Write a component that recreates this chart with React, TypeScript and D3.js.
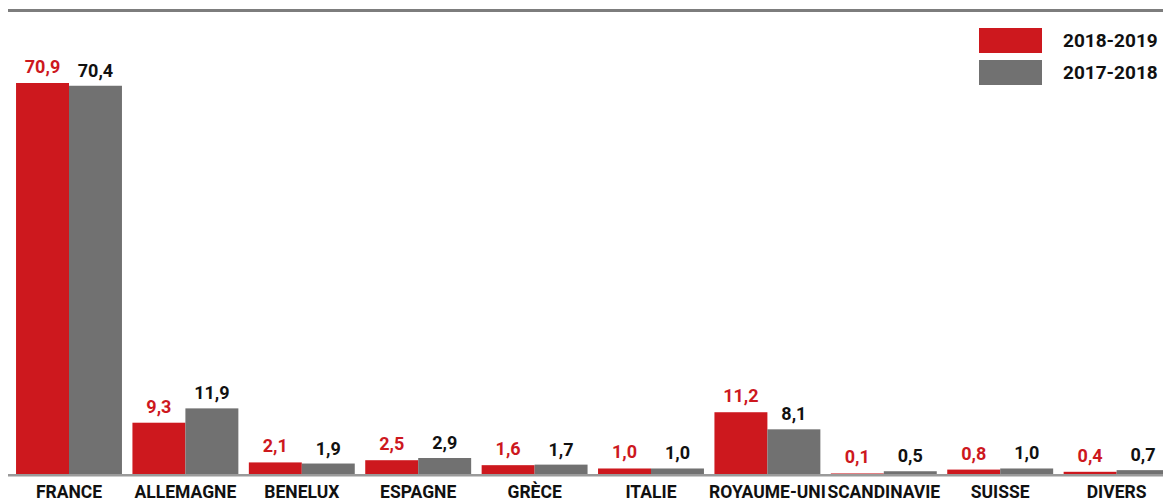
import { useEffect, useRef } from "react";
import * as d3 from "d3";

// categories and values (labels as printed, french decimal comma)
const categories = [
  "FRANCE",
  "ALLEMAGNE",
  "BENELUX",
  "ESPAGNE",
  "GRÈCE",
  "ITALIE",
  "ROYAUME-UNI",
  "SCANDINAVIE",
  "SUISSE",
  "DIVERS",
];
const values2019 = [70.9, 9.3, 2.1, 2.5, 1.6, 1.0, 11.2, 0.1, 0.8, 0.4];
const values2018 = [70.4, 11.9, 1.9, 2.9, 1.7, 1.0, 8.1, 0.5, 1.0, 0.7];
const seriesNames = ["2018-2019", "2017-2018"];

const RED = "#cd181e";
const GREY = "#717171";

function App() {
  const width = 1163,
    height = 502;
  const baseY = 474;
  const gRef = useRef<SVGGElement>(null);

  useEffect(() => {
    const g = d3.select(gRef.current);
    g.selectAll("*").remove();

    // ####### scales #######
    const x = d3
      .scaleBand()
      .domain(categories)
      .range([10.8, 1174.8])
      .paddingInner(0.09)
      .paddingOuter(0.045);
    const xSub = d3
      .scaleBand()
      .domain(seriesNames)
      .range([0, x.bandwidth()]);
    const y = d3.scaleLinear().domain([0, 70.9]).range([baseY, 83]);

    const fmt = (v: number) => d3.format(".1f")(v).replace(".", ",");

    const series = [
      { name: seriesNames[0], vals: values2019, fill: RED, text: RED, gap: 10 },
      { name: seriesNames[1], vals: values2018, fill: GREY, text: "#111", gap: 9 },
    ];

    // top rule
    g.append("line")
      .attr("x1", 8)
      .attr("x2", width)
      .attr("y1", 10.5)
      .attr("y2", 10.5)
      .attr("stroke", "#7d7d7d")
      .attr("stroke-width", 3);

    // ####### bars + value labels #######
    series.forEach((s) => {
      const grp = g.append("g");
      grp
        .selectAll("rect")
        .data(categories)
        .enter()
        .append("rect")
        .attr("x", (c) => (x(c) as number) + (xSub(s.name) as number))
        .attr("width", xSub.bandwidth())
        .attr("y", (c, i) => y(s.vals[i]))
        .attr("height", (c, i) => baseY - y(s.vals[i]))
        .attr("fill", s.fill);

      grp
        .selectAll("text")
        .data(categories)
        .enter()
        .append("text")
        .attr("x", (c) => (x(c) as number) + (xSub(s.name) as number) + xSub.bandwidth() / 2)
        .attr("y", (c, i) => y(s.vals[i]) - s.gap)
        .attr("text-anchor", "middle")
        .attr("fill", s.text)
        .attr("font-family", "Roboto")
        .attr("font-weight", 700)
        .attr("font-size", 18)
        .text((c, i) => fmt(s.vals[i]));
    });

    // baseline
    g.append("line")
      .attr("x1", 8)
      .attr("x2", width)
      .attr("y1", baseY + 1.3)
      .attr("y2", baseY + 1.3)
      .attr("stroke", "#9a9a9a")
      .attr("stroke-width", 2.6);

    // category labels
    g.append("g")
      .selectAll("text")
      .data(categories)
      .enter()
      .append("text")
      .attr("x", (c) => (x(c) as number) + x.bandwidth() / 2)
      .attr("y", 498)
      .attr("text-anchor", "middle")
      .attr("fill", "#111")
      .attr("font-family", "Roboto")
      .attr("font-weight", 700)
      .attr("font-size", 17.5)
      .text((c) => c);

    // ####### legend #######
    const legend = g
      .append("g")
      .selectAll("g")
      .data(series)
      .enter()
      .append("g")
      .attr("transform", (d, i) => `translate(979, ${28 + i * 32})`);
    legend
      .append("rect")
      .attr("width", 63)
      .attr("height", 25)
      .attr("fill", (d) => d.fill);
    legend
      .append("text")
      .attr("x", 84)
      .attr("y", 18.5)
      .attr("fill", "#111")
      .attr("font-family", "Roboto")
      .attr("font-weight", 700)
      .attr("font-size", 19)
      .text((d) => d.name);
  }, []);

  return (
    <svg
      width={width}
      height={height}
      style={{ position: "absolute", left: 0, top: 0, background: "#fff" }}
    >
      <g ref={gRef}></g>
    </svg>
  );
}

export default App;
